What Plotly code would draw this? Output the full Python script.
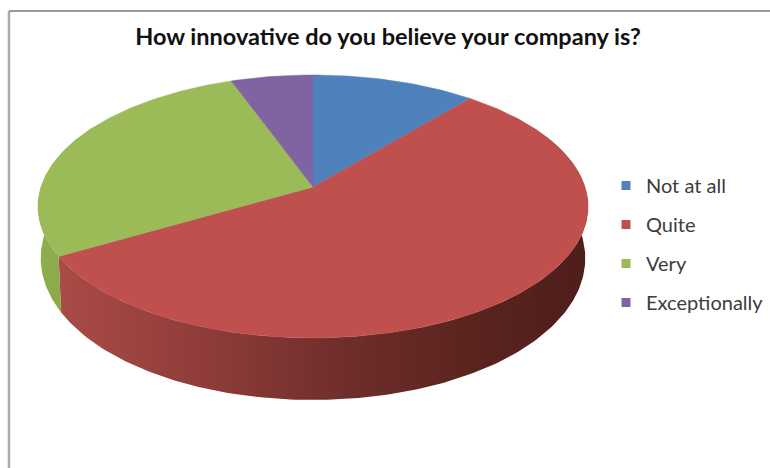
import numpy as np
import plotly.graph_objects as go

# Survey responses
categories = ["Not at all", "Quite", "Very", "Exceptionally"]
responses = [2, 10, 5, 1]
top_colors = ["#4f81bd", "#c0504d", "#9bbb59", "#8064a2"]

title_text = "How innovative do you believe your company is?"

# Tilted disc drawn in pixel-sized axis units, with a perspective foreshortening
CX, CY = 313.0, 187.0
RADIUS_X, RADIUS_Y = 272.0, 128.6
TILT = 0.148
WALL_SCALE = 0.99


def rim(theta):
    u, v = np.sin(theta), np.cos(theta)
    d = 1 + TILT * v
    return CX + RADIUS_X * u / d, CY - RADIUS_Y * v / d


def wall_rim(theta):
    x, y = rim(theta)
    v = np.cos(theta)
    depth = 50 + 12 * np.clip(-v, 0, 1)
    return CX + (x - CX) * WALL_SCALE, y + depth


def angle_range(a, b):
    n = max(int(abs(b - a) * 60), 2)
    return np.linspace(a, b, n)


shares = np.array(responses, dtype=float) / sum(responses)
edges = np.concatenate([[0], np.cumsum(shares)]) * 2 * np.pi

fig = go.Figure()

# Side walls: only the front-facing arcs are seen, the top face hides the rest
red_wall = angle_range(np.radians(60), edges[2])
green_wall = angle_range(edges[2], np.radians(300))
walls = [
    (red_wall, [[0, "#aa4b47"], [0.3, "#8c3b39"], [0.55, "#6e2d2b"], [0.78, "#5a241f"], [1, "#4e1e1a"]]),
    (green_wall, [[0, "#8fae4e"], [1, "#84a346"]]),
]
for thetas, scale in walls:
    xt, yt = rim(thetas)
    xb, yb = wall_rim(thetas)
    fig.add_trace(go.Scatter(
        x=np.concatenate([xt, xb[::-1]]), y=np.concatenate([yt, yb[::-1]]),
        mode="lines", fill="toself", line=dict(width=0, color=scale[0][1]),
        fillgradient=dict(type="horizontal", colorscale=scale),
        hoverinfo="skip", showlegend=False,
    ))

# Top face, one wedge per category
for i, name in enumerate(categories):
    xs, ys = rim(angle_range(edges[i], edges[i + 1]))
    fig.add_trace(go.Scatter(
        x=np.concatenate([[CX], xs, [CX]]), y=np.concatenate([[CY], ys, [CY]]),
        mode="lines", fill="toself", fillcolor=top_colors[i],
        line=dict(width=0.5, color=top_colors[i]),
        name=name, text=f"{name}: {responses[i]}", hoverinfo="text", showlegend=False,
    ))

# Legend keys
for i, name in enumerate(categories):
    fig.add_trace(go.Scatter(
        x=[None], y=[None], mode="markers", name=name, legendgroup=name,
        marker=dict(symbol="square", size=9, color=top_colors[i]),
    ))

fig.update_layout(
    width=770, height=468,
    margin=dict(l=0, r=0, t=0, b=0),
    paper_bgcolor="white", plot_bgcolor="white",
    xaxis=dict(range=[0, 770], visible=False, fixedrange=True),
    yaxis=dict(range=[468, 0], visible=False, fixedrange=True),
    title=dict(text=f"<b>{title_text}</b>", x=388 / 770, xanchor="center", y=1 - 37 / 468, yanchor="middle",
               font=dict(family="Lato", size=23.5, color="#111111")),
    legend=dict(x=606 / 770, xanchor="left", y=1 - 166 / 468, yanchor="top",
                font=dict(family="Lato", size=20, color="#3c3c3c"),
                traceorder="grouped", tracegroupgap=10, bgcolor="rgba(0,0,0,0)"),
    shapes=[
        dict(type="line", xref="paper", yref="paper", x0=9 / 770, x1=9 / 770, y0=0, y1=1 - 11 / 468,
             line=dict(color="#aaaaaa", width=2.5)),
        dict(type="line", xref="paper", yref="paper", x0=9 / 770, x1=1, y0=1 - 11 / 468, y1=1 - 11 / 468,
             line=dict(color="#9a9a9a", width=2)),
    ],
)

fig.write_html("out.html")
